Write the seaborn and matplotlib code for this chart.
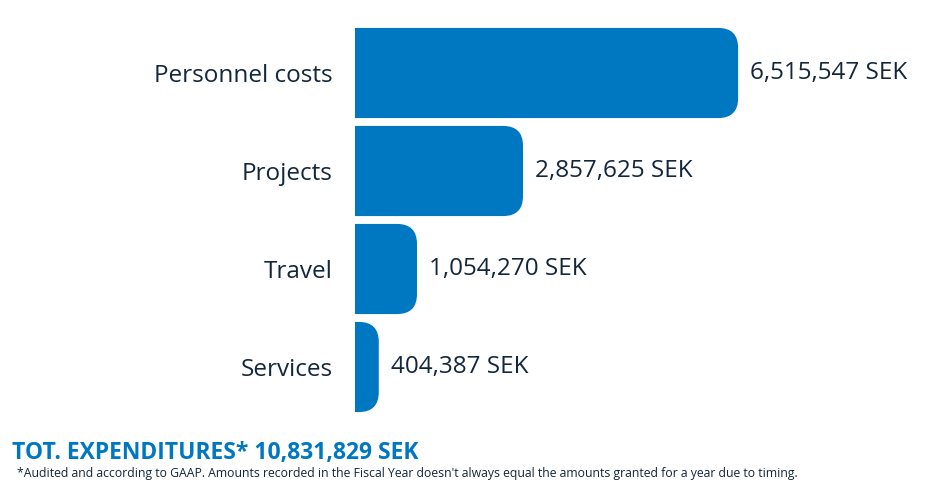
import matplotlib
matplotlib.use("Agg")
import matplotlib.pyplot as plt
import seaborn as sns
import pandas as pd
from matplotlib.path import Path
from matplotlib.patches import PathPatch

categories = ["Personnel costs", "Projects", "Travel", "Services"]
amounts = [6515547, 2857625, 1054270, 404387]
total_label = "TOT. EXPENDITURES* 10,831,829 SEK"
footnote = ("*Audited and according to GAAP. Amounts recorded in the Fiscal Year doesn't "
            "always equal the amounts granted for a year due to timing.")

BLUE = "#0077c1"
NAVY = "#13263a"

sns.set_style("white")
plt.rcParams["font.family"] = ["Open Sans", "DejaVu Sans"]

df = pd.DataFrame({"category": categories, "amount": amounts})

fig = plt.figure(figsize=(9.34, 5.03), dpi=100)
ax = fig.add_axes([355 / 934, 87 / 503, 579 / 934, 392 / 503])
sns.barplot(data=df, x="amount", y="category", orient="h", color=BLUE,
            width=0.92, ax=ax, saturation=1)

xmax = 579 / 5.88e-5
ax.set_xlim(0, xmax)
ax.set_ylim(3.5, -0.5)

# rounded right corners: radius ~20 px
px_x = xmax / 579
px_y = 4.0 / 392
r = 20
for p in list(ax.patches):
    x0, y0 = p.get_x(), p.get_y()
    w, h = p.get_width(), p.get_height()
    p.remove()
    rx = min(r * px_x, w)
    ry = r * px_y
    x1, y1 = x0 + w, y0 + h
    verts = [(x0, y0), (x1 - rx, y0), (x1, y0), (x1, y0 + ry),
             (x1, y1 - ry), (x1, y1), (x1 - rx, y1), (x0, y1), (x0, y0)]
    codes = [Path.MOVETO, Path.LINETO, Path.CURVE3, Path.CURVE3,
             Path.LINETO, Path.CURVE3, Path.CURVE3, Path.LINETO, Path.CLOSEPOLY]
    ax.add_patch(PathPatch(Path(verts, codes), facecolor=BLUE, edgecolor="none"))

for i, v in enumerate(amounts):
    ax.text(v + 12 * px_x, i, f"{v:,} SEK", va="center", ha="left",
            fontsize=17.5, color=NAVY)

ax.set_xlabel("")
ax.set_ylabel("")
ax.set_xticks([])
ax.tick_params(axis="y", length=0, pad=16, labelsize=17.5, labelcolor=NAVY)
for s in ax.spines.values():
    s.set_visible(False)

fig.text(12 / 934, 1 - 453 / 503, total_label, fontsize=16.5, fontweight="bold",
         color=BLUE, va="center", ha="left")
fig.text(17 / 934, 1 - 473 / 503, footnote, fontsize=8.8, color=NAVY,
         va="center", ha="left")

fig.savefig("out.png", dpi=100)
